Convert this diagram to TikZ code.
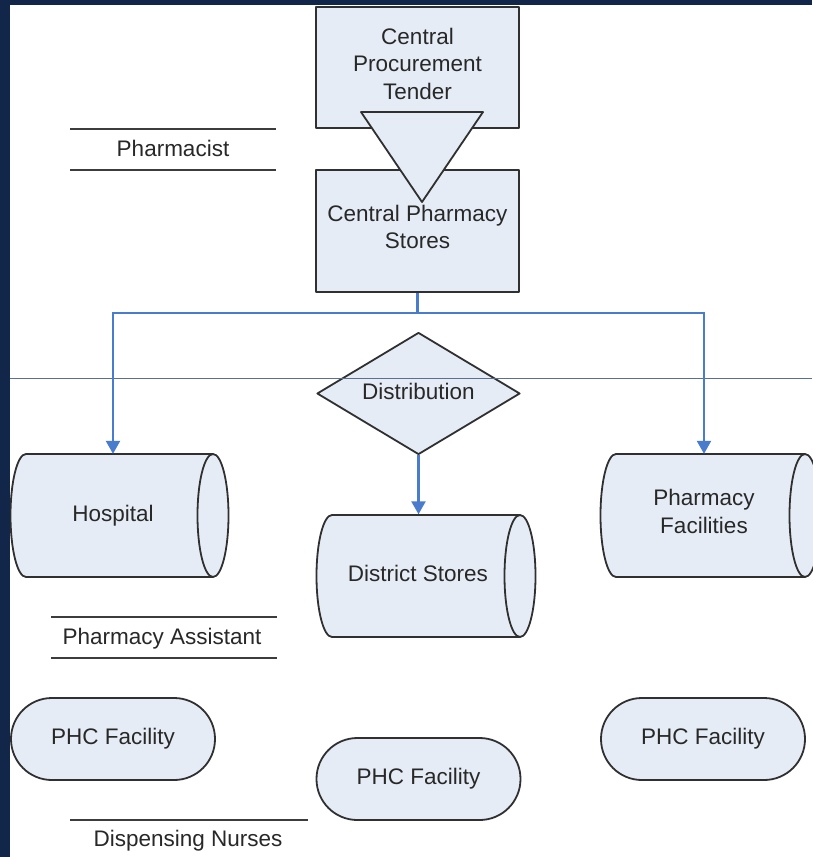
\documentclass[tikz,border=0pt]{standalone}
\usepackage{fontspec}
\setmainfont{Liberation Sans}
\usetikzlibrary{shapes.geometric,arrows.meta}

\definecolor{navy}{RGB}{17,38,72}
\definecolor{shapefill}{RGB}{230,236,246}
\definecolor{edge}{RGB}{48,48,48}
\definecolor{flow}{RGB}{74,124,206}
\definecolor{rulecol}{RGB}{92,111,144}
\definecolor{ink}{RGB}{40,40,40}

\tikzset{
  txt/.style={text=ink, font=\fontsize{22.5}{27.5}\selectfont, align=center,
    execute at begin node=\strut, execute at end node=\strut},
  shapebody/.style={fill=shapefill, draw=edge, line width=1.8pt, line join=round},
  shapeline/.style={draw=edge, line width=1.8pt},
  stepbox/.style={txt, shapebody, rectangle, minimum width=203pt, inner sep=0pt},
  pill/.style={txt, shapebody, rectangle, rounded corners=40.9pt,
    minimum width=204pt, minimum height=82pt, inner sep=0pt},
  decision/.style={txt, shapebody, diamond, aspect=1.66, minimum width=203pt,
    minimum height=122pt, inner sep=0pt},
  drumtext/.style={txt, minimum height=123pt, inner sep=0pt},
  link/.style={draw=flow, line width=2.4pt},
  arrowlink/.style={link, -{Triangle[width=14pt,length=13pt]}},
  roleline/.style={draw={rgb,255:red,60;green,60;blue,60}, line width=2pt},
}

% horizontal storage drum: centre x, centre y, half body width, half height
\newcommand\drumoutline[4]{%
  \path[shapebody] ({#1-#3},{#2+#4}) -- ({#1+#3},{#2+#4})
     arc[start angle=90,end angle=-90,x radius=15.5,y radius=#4]
     -- ({#1-#3},{#2-#4})
     arc[start angle=270,end angle=90,x radius=15.5,y radius=#4] -- cycle;
  \draw[shapeline] ({#1+#3},{#2+#4})
     arc[start angle=90,end angle=270,x radius=15.5,y radius=#4];
}

\begin{document}
\begin{tikzpicture}[x=1pt,y=1pt]
  \useasboundingbox (0,0) rectangle (812,-857);
  \fill[white] (0,0) rectangle (812,-857);

  % procurement chain
  \node[stepbox, minimum height=121pt] (cpt) at (417.5,-67.5)
    {Central\\Procurement\\Tender};
  \node[stepbox, minimum height=122pt] (cps) at (417.5,-231)
    {Central Pharmacy\\Stores};
  \path[shapebody] (361,-112) -- (483,-112) -- (422,-202) -- cycle;

  % distribution decision
  \node[decision] (dist) at (418.5,-393.5) {Distribution};

  % divider across the sheet
  \draw[rulecol, line width=1pt] (10,-378) -- (812,-378);

  % storage drums
  \drumoutline{119.5}{-515.5}{93.5}{61.5}
  \drumoutline{426}{-576}{94}{61}
  \drumoutline{710.5}{-515.5}{94.5}{61.5}
  \node[drumtext] (hosp) at (113,-515.5) {Hospital};
  \node[drumtext] (district) at (418,-576) {District Stores};
  \node[drumtext] (pf) at (704,-515.5) {Pharmacy\\Facilities};

  % distribution links
  \draw[link] (cps.south) -- ++(0,-20) coordinate (split);
  \draw[arrowlink] (split) -| (hosp.north);
  \draw[arrowlink] (split) -| (pf.north);
  \draw[arrowlink] (dist.south) -- (dist.south |- district.north);

  % primary health care facilities
  \node[pill] (phcL) at (113,-739) {PHC Facility};
  \node[pill] (phcM) at (418.5,-779) {PHC Facility};
  \node[pill] (phcR) at (703,-739) {PHC Facility};

  % staff roles
  \node[txt] (pharmacist) at (173,-150.5) {Pharmacist};
  \draw[roleline] (70,-129) -- (276,-129);
  \draw[roleline] (70,-170) -- (276,-170);

  \node[txt] (assistant) at (162,-638.5) {Pharmacy Assistant};
  \draw[roleline] (51,-617) -- (277,-617);
  \draw[roleline] (51,-658) -- (277,-658);

  \node[txt] (nurses) at (188,-840.5) {Dispensing Nurses};
  \draw[roleline] (70,-820) -- (308,-820);

  % frame strips
  \fill[navy] (0,0) rectangle (812,-5);
  \fill[navy] (0,0) rectangle (10,-857);
\end{tikzpicture}
\end{document}
